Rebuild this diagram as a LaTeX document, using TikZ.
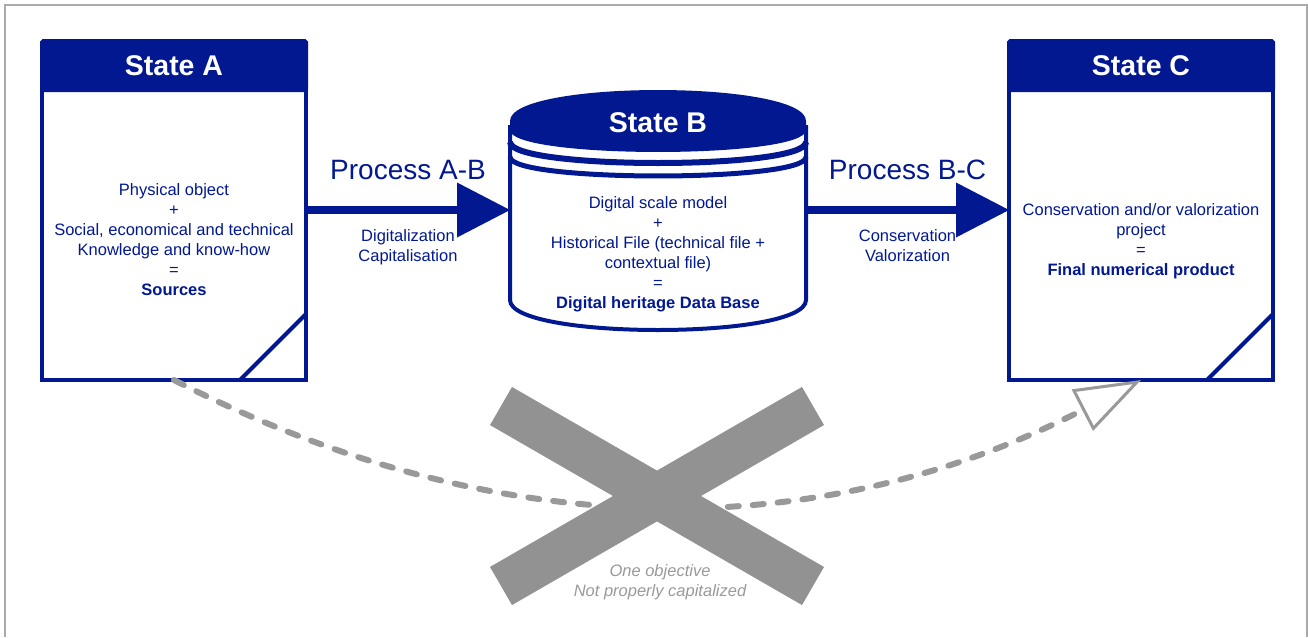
\documentclass[tikz,border=0pt]{standalone}
\usepackage{fontspec}
\setmainfont{Liberation Sans}
\usetikzlibrary{arrows.meta,positioning,calc}
\definecolor{dkblue}{RGB}{2,24,145}
\definecolor{xgray}{RGB}{146,146,146}
\definecolor{dashgray}{RGB}{153,153,153}
\definecolor{framegray}{RGB}{170,170,170}

\begin{document}
\begin{tikzpicture}[x=1pt,y=-1pt,
    statebody/.style={draw=dkblue,line width=4pt,fill=white,minimum width=264pt,minimum height=290pt,inner sep=0pt,outer sep=0pt},
    statehead/.style={draw=dkblue,fill=dkblue,line width=4pt,minimum width=264pt,minimum height=49pt,inner sep=0pt,outer sep=0pt,rounded corners=1.5pt,text=white,font=\fontsize{28.5}{30}\selectfont\bfseries},
    statetext/.style={text=dkblue,align=center,inner sep=0pt,font=\fontsize{16.5}{20}\selectfont},
    proclabel/.style={text=dkblue,inner sep=0pt,outer sep=0pt,font=\fontsize{28}{30}\selectfont},
    procnote/.style={text=dkblue,align=center,inner sep=0pt,outer sep=0pt,font=\fontsize{16.5}{20}\selectfont},
    bigarrow/.style={draw=dkblue,line width=8pt,-{Triangle[length=53pt,width=55pt,line width=0pt]}},
    dasharrow/.style={draw=dashgray,line width=6pt,dash pattern=on 11pt off 14pt,line cap=round,-{Triangle[length=66pt,width=46pt,line width=3pt,fill=white]}},
    crossbar/.style={draw=xgray,line width=44pt},
    fold/.style={draw=dkblue,line width=4pt}]
  \useasboundingbox (0,0) rectangle (1308,637);
  \draw[framegray,line width=1.5pt] (5,637) -- (5,5) -- (1307,5) -- (1307,637);

  % the two boxes
  \node[statebody] (boxA) at (174,235) {};
  \node[statehead,above=0pt of boxA] (hdrA) {State A};
  \draw[fold] ($(boxA.south east)+(-66,0)$) -- ($(boxA.south east)+(0,-66)$);
  \node[statebody] (boxC) at (1141,235) {};
  \node[statehead,above=0pt of boxC] (hdrC) {State C};
  \draw[fold] ($(boxC.south east)+(-66,0)$) -- ($(boxC.south east)+(0,-66)$);

  % data base cylinder
  \node[minimum width=296pt,minimum height=240pt,inner sep=0pt,outer sep=0pt] (dbB) at (658,210) {};
  \draw[dkblue,line width=4pt,fill=white] (510,125) -- (510,300) .. controls +(0,40) and +(0,40) .. (806,300) -- (806,125);
  \fill[dkblue] (510,121) .. controls +(0,-41.3) and +(0,-41.3) .. (806,121) -- (806,130)
    .. controls +(0,29.3) and +(0,29.3) .. (510,130) -- cycle;
  \draw[dkblue,line width=6pt] (510,142) .. controls +(0,28) and +(0,28) .. (806,142);
  \draw[dkblue,line width=5pt] (510,157) .. controls +(0,25.3) and +(0,25.3) .. (806,157);
  \node[text=white,font=\fontsize{28.5}{30}\selectfont\bfseries] (hdrB) at (658,123) {State B};

  \node[statetext] (txtA) at (174,240) {Physical object\\+\\Social, economical and technical\\Knowledge and know-how\\=\\\textbf{Sources}};
  \node[statetext] (txtB) at (658,254) {Digital scale model\\+\\Historical File (technical file +\\contextual file)\\=\\\textbf{Digital heritage Data Base}};
  \node[statetext] (txtC) at (1141,241) {Conservation and/or valorization\\project\\=\\\textbf{Final numerical product}};

  \draw[bigarrow] (boxA.east |- dbB.west) -- node[proclabel,above=30pt] (procAB) {Process A-B}
    node[procnote,below=20pt] (noteAB) {Digitalization\\Capitalisation} (dbB.west);
  \draw[bigarrow] (dbB.east) -- node[proclabel,above=30pt] (procBC) {Process B-C}
    node[procnote,below=20pt] (noteBC) {Conservation\\Valorization} (boxC.west |- dbB.east);

  % the shortcut that does not work
  \draw[dasharrow] (boxA.south) .. controls +(323,166) and +(-323,166) .. (boxC.south);
  \coordinate (xmid) at (657,496);
  \draw[crossbar] ($(xmid)+(-156,-90)$) -- ($(xmid)+(156,90)$);
  \draw[crossbar] ($(xmid)+(156,-90)$) -- ($(xmid)+(-156,90)$);
  \node[text=dashgray,align=center,font=\fontsize{16.5}{20}\selectfont\itshape] (noteX) at (660,582) {One objective\\Not properly capitalized};
\end{tikzpicture}
\end{document}
